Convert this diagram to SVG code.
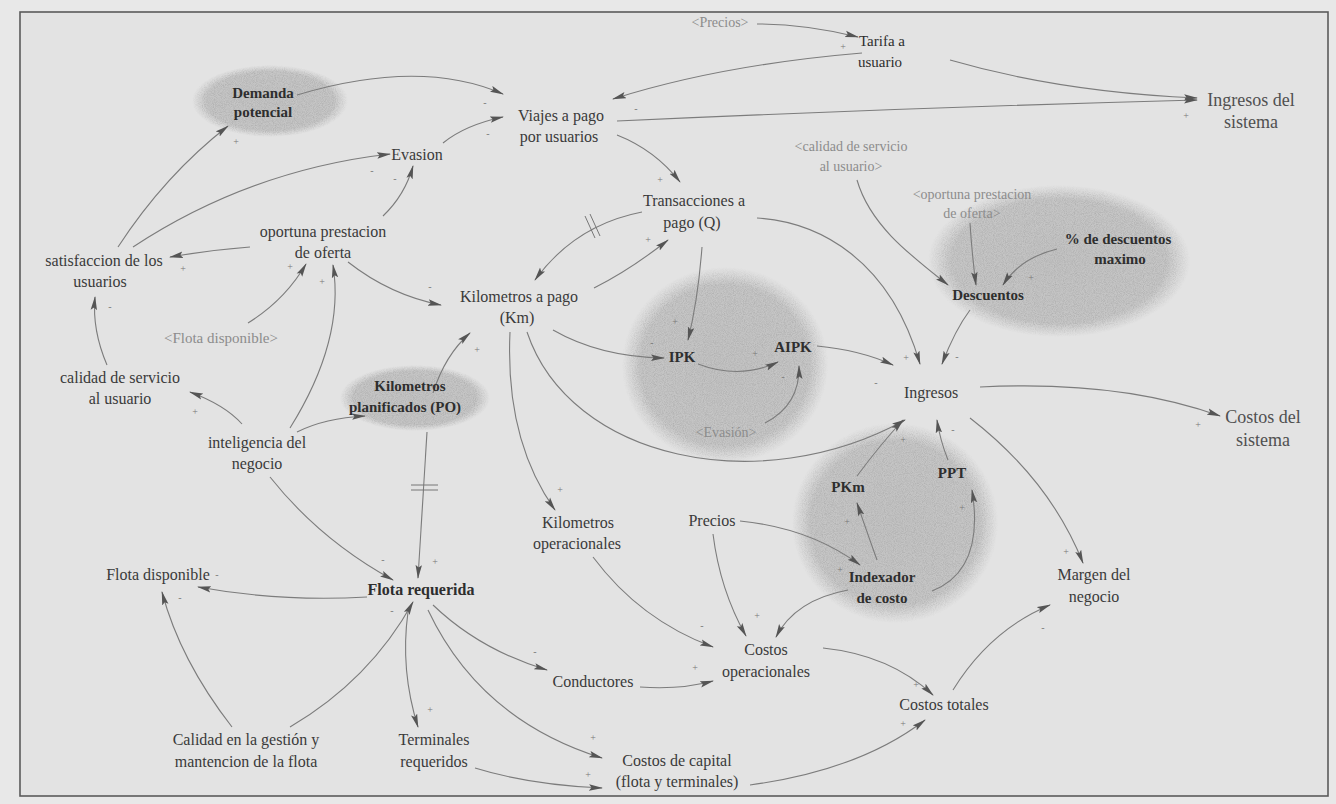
<svg xmlns="http://www.w3.org/2000/svg" width="1336" height="804" viewBox="0 0 1336 804">
  <defs>
    <style>
      text { font-family: "Liberation Serif", "Times New Roman", serif; text-anchor: middle; }
      .t { font-size: 16px; fill: #3a3a3a; }
      .big { font-size: 18px; fill: #505050; }
      .b { font-size: 15px; font-weight: bold; fill: #2e2e2e; }
      .sh { font-size: 14px; fill: #8c8c8c; }
      .sg { font-size: 10px; fill: #7a7a7a; }
      .c { fill: none; stroke: #7c7c7c; stroke-width: 1.1; marker-end: url(#ah); }
      .dl { fill: none; stroke: #777; stroke-width: 1; }
      .cl { fill: url(#shade); filter: url(#stipple); }
    </style>
    <marker id="ah" viewBox="0 0 14 8" refX="13" refY="4" markerWidth="14" markerHeight="8" orient="auto" markerUnits="userSpaceOnUse">
      <path d="M0,0.8 L14,4 L0,7.2 L2.5,4 z" fill="#555"/>
    </marker>
    <radialGradient id="shade" cx="50%" cy="50%" r="50%">
      <stop offset="0" stop-color="#c2c2c2" stop-opacity="1"/>
      <stop offset="0.82" stop-color="#c6c6c6" stop-opacity="1"/>
      <stop offset="1" stop-color="#cfcfcf" stop-opacity="0"/>
    </radialGradient>
    <filter id="stipple" x="-5%" y="-5%" width="110%" height="110%">
      <feTurbulence type="fractalNoise" baseFrequency="1.1" numOctaves="1" seed="4" result="noise"/>
      <feColorMatrix in="noise" type="matrix" values="0 0 0 0 0.42  0 0 0 0 0.42  0 0 0 0 0.42  -2 0 0 0 1.25" result="specks"/>
      <feComposite in="specks" in2="SourceGraphic" operator="in" result="clipped"/>
      <feMerge><feMergeNode in="SourceGraphic"/><feMergeNode in="clipped"/></feMerge>
    </filter>
  </defs>

  <!-- page and frame -->
  <rect x="0" y="0" width="1336" height="804" fill="#e8e8e8"/>
  <rect x="20" y="12" width="1308" height="784" fill="#e3e3e3" stroke="#5a5a5a" stroke-width="1.6"/>

  <!-- shaded clusters -->
  <g id="clusters">
    <ellipse class="cl" cx="270" cy="101" rx="78" ry="36"/>
    <ellipse class="cl" cx="1059" cy="261" rx="131" ry="76"/>
    <ellipse class="cl" cx="415" cy="398" rx="75" ry="33"/>
    <ellipse class="cl" cx="725" cy="365" rx="103" ry="98"/>
    <ellipse class="cl" cx="895" cy="523" rx="103" ry="100"/>
  </g>

  <g id="connectors">
    <path class="c" d="M757,24 Q805,24 858,37"/>
    <path class="c" d="M862,53 Q720,65 613,99"/>
    <path class="c" d="M617,121 Q900,108 1197,100"/>
    <path class="c" d="M950,60 Q1060,92 1197,98"/>
    <path class="c" d="M297,95 Q420,58 503,94"/>
    <path class="c" d="M443,143 Q465,125 503,117"/>
    <path class="c" d="M118,247 Q165,175 228,126"/>
    <path class="c" d="M133,247 Q250,170 390,154"/>
    <path class="c" d="M383,216 Q405,195 413,166"/>
    <path class="c" d="M250,247 Q210,250 170,257"/>
    <path class="c" d="M248,323 Q285,300 306,264"/>
    <path class="c" d="M290,428 Q345,340 333,265"/>
    <path class="c" d="M348,262 Q390,295 441,305"/>
    <path class="c" d="M617,135 Q655,150 680,182"/>
    <path class="c" d="M642,212 Q575,225 535,280"/>
    <path class="c" d="M594,288 Q630,270 668,240"/>
    <path class="c" d="M702,247 Q698,300 688,340"/>
    <path class="c" d="M757,218 C820,222 890,260 920,364"/>
    <path class="c" d="M970,310 Q955,330 942,364"/>
    <path class="c" d="M857,180 C870,225 910,255 948,285"/>
    <path class="c" d="M970,223 Q972,255 976,285"/>
    <path class="c" d="M1057,249 Q1020,258 1003,285"/>
    <path class="c" d="M553,330 Q600,357 664,358"/>
    <path class="c" d="M698,364 Q740,380 778,362"/>
    <path class="c" d="M765,423 Q800,405 799,366"/>
    <path class="c" d="M817,346 Q860,350 893,365"/>
    <path class="c" d="M527,332 C570,460 760,500 905,420"/>
    <path class="c" d="M857,476 Q880,445 903,420"/>
    <path class="c" d="M948,460 Q940,440 937,420"/>
    <path class="c" d="M877,560 Q868,535 857,503"/>
    <path class="c" d="M932,591 Q985,570 972,490"/>
    <path class="c" d="M740,521 Q810,528 860,565"/>
    <path class="c" d="M713,534 Q720,590 746,636"/>
    <path class="c" d="M848,590 Q795,600 776,637"/>
    <path class="c" d="M593,557 Q640,620 713,647"/>
    <path class="c" d="M640,687 Q680,690 713,681"/>
    <path class="c" d="M823,648 Q890,655 933,695"/>
    <path class="c" d="M750,785 Q860,770 925,720"/>
    <path class="c" d="M953,690 Q990,630 1050,605"/>
    <path class="c" d="M970,418 Q1050,480 1083,563"/>
    <path class="c" d="M980,387 Q1120,380 1220,416"/>
    <path class="c" d="M510,332 Q505,440 555,510"/>
    <path class="c" d="M433,393 Q445,355 470,333"/>
    <path class="c" d="M427,432 Q422,510 418,578"/>
    <path class="c" d="M297,432 Q325,418 365,416"/>
    <path class="c" d="M242,424 Q225,405 190,392"/>
    <path class="c" d="M107,365 Q92,330 95,297"/>
    <path class="c" d="M270,477 Q320,540 393,580"/>
    <path class="c" d="M367,597 Q280,602 198,587"/>
    <path class="c" d="M232,727 Q180,660 162,592"/>
    <path class="c" d="M290,727 Q370,680 413,602"/>
    <path class="c" d="M408,612 Q400,670 418,727"/>
    <path class="c" d="M433,605 Q480,650 547,670"/>
    <path class="c" d="M428,610 Q480,720 602,758"/>
    <path class="c" d="M475,768 Q530,785 602,788"/>
    <!-- delay marks -->
    <path class="dl" d="M585,216 L595,238 M590,214 L600,236"/>
    <path class="dl" d="M411,485 L438,485 M411,490 L438,490"/>
    <!-- polarity signs -->
    <g id="polarity">
      <text class="sg" x="843" y="50">+</text>
      <text class="sg" x="636" y="112">-</text>
      <text class="sg" x="1186" y="119">+</text>
      <text class="sg" x="485" y="106">-</text>
      <text class="sg" x="488" y="137">-</text>
      <text class="sg" x="236" y="145">+</text>
      <text class="sg" x="372" y="174">-</text>
      <text class="sg" x="395" y="182">-</text>
      <text class="sg" x="183" y="272">+</text>
      <text class="sg" x="290" y="270">+</text>
      <text class="sg" x="322" y="285">+</text>
      <text class="sg" x="430" y="290">-</text>
      <text class="sg" x="660" y="183">+</text>
      <text class="sg" x="648" y="243">+</text>
      <text class="sg" x="675" y="325">+</text>
      <text class="sg" x="906" y="361">+</text>
      <text class="sg" x="957" y="360">-</text>
      <text class="sg" x="1031" y="281">+</text>
      <text class="sg" x="652" y="346">-</text>
      <text class="sg" x="755" y="357">+</text>
      <text class="sg" x="783" y="380">-</text>
      <text class="sg" x="876" y="386">-</text>
      <text class="sg" x="903" y="443">+</text>
      <text class="sg" x="953" y="433">-</text>
      <text class="sg" x="847" y="525">+</text>
      <text class="sg" x="962" y="511">+</text>
      <text class="sg" x="840" y="573">+</text>
      <text class="sg" x="757" y="619">+</text>
      <text class="sg" x="702" y="629">-</text>
      <text class="sg" x="695" y="671">+</text>
      <text class="sg" x="916" y="688">+</text>
      <text class="sg" x="903" y="727">+</text>
      <text class="sg" x="1043" y="631">-</text>
      <text class="sg" x="1066" y="555">+</text>
      <text class="sg" x="1198" y="428">+</text>
      <text class="sg" x="560" y="493">+</text>
      <text class="sg" x="477" y="353">+</text>
      <text class="sg" x="435" y="565">+</text>
      <text class="sg" x="195" y="415">+</text>
      <text class="sg" x="110" y="310">-</text>
      <text class="sg" x="383" y="563">-</text>
      <text class="sg" x="217" y="578">-</text>
      <text class="sg" x="180" y="601">-</text>
      <text class="sg" x="392" y="614">-</text>
      <text class="sg" x="430" y="713">+</text>
      <text class="sg" x="535" y="655">-</text>
      <text class="sg" x="593" y="741">+</text>
      <text class="sg" x="588" y="778">+</text>
    </g>
  </g>

  <g id="precios-ref"><text class="sh" x="720" y="27">&lt;Precios&gt;</text></g>
  <g id="tarifa"><text class="t" style="font-size:15px;fill:#2e2e2e" x="882" y="46">Tarifa a</text><text class="t" style="font-size:15px;fill:#2e2e2e" x="880" y="67">usuario</text></g>
  <g id="ingresos-sistema"><text class="big" x="1251" y="106">Ingresos del</text><text class="big" x="1251" y="128">sistema</text></g>
  <g id="demanda"><text class="b" x="263" y="98">Demanda</text><text class="b" x="263" y="117">potencial</text></g>
  <g id="viajes"><text class="t" x="561" y="121">Viajes a pago</text><text class="t" x="559" y="142">por usuarios</text></g>
  <g id="evasion"><text class="t" x="417" y="160">Evasion</text></g>
  <g id="calidad-ref"><text class="sh" x="851" y="151">&lt;calidad de servicio</text><text class="sh" x="851" y="171">al usuario&gt;</text></g>
  <g id="transacciones"><text class="t" x="694" y="206">Transacciones a</text><text class="t" x="692" y="228">pago (Q)</text></g>
  <g id="oportuna-ref"><text class="sh" x="972" y="199">&lt;oportuna prestacion</text><text class="sh" x="972" y="218">de oferta&gt;</text></g>
  <g id="descuentos-max"><text class="b" x="1118" y="244">% de descuentos</text><text class="b" x="1120" y="264">maximo</text></g>
  <g id="descuentos"><text class="b" x="988" y="300">Descuentos</text></g>
  <g id="oportuna"><text class="t" x="323" y="237">oportuna prestacion</text><text class="t" x="323" y="258">de oferta</text></g>
  <g id="satisfaccion"><text class="t" x="104" y="266">satisfaccion de los</text><text class="t" x="100" y="287">usuarios</text></g>
  <g id="km-pago"><text class="t" x="519" y="302">Kilometros a pago</text><text class="t" x="517" y="323">(Km)</text></g>
  <g id="flota-ref"><text class="sh" style="font-size:15px" x="221" y="343">&lt;Flota disponible&gt;</text></g>
  <g id="calidad"><text class="t" x="120" y="383">calidad de servicio</text><text class="t" x="120" y="404">al usuario</text></g>
  <g id="inteligencia"><text class="t" x="257" y="448">inteligencia del</text><text class="t" x="257" y="469">negocio</text></g>
  <g id="km-planificados"><text class="b" x="410" y="391">Kilometros</text><text class="b" x="405" y="412">planificados (PO)</text></g>
  <g id="ipk"><text class="b" x="682" y="362">IPK</text></g>
  <g id="aipk"><text class="b" x="793" y="352">AIPK</text></g>
  <g id="evasion-ref"><text class="sh" x="726" y="437">&lt;Evasión&gt;</text></g>
  <g id="ingresos"><text class="t" x="931" y="398">Ingresos</text></g>
  <g id="costos-sistema"><text class="big" x="1263" y="423">Costos del</text><text class="big" x="1263" y="446">sistema</text></g>
  <g id="pkm"><text class="b" x="848" y="492">PKm</text></g>
  <g id="ppt"><text class="b" x="952" y="478">PPT</text></g>
  <g id="precios"><text class="t" x="712" y="526">Precios</text></g>
  <g id="km-operacionales"><text class="t" x="578" y="528">Kilometros</text><text class="t" x="577" y="549">operacionales</text></g>
  <g id="indexador"><text class="b" x="882" y="582">Indexador</text><text class="b" x="882" y="603">de costo</text></g>
  <g id="margen"><text class="t" x="1094" y="580">Margen del</text><text class="t" x="1094" y="602">negocio</text></g>
  <g id="flota-disponible"><text class="t" x="158" y="580">Flota disponible</text></g>
  <g id="flota-requerida"><text class="b" style="font-size:16px" x="421" y="595">Flota requerida</text></g>
  <g id="costos-operacionales"><text class="t" x="766" y="655">Costos</text><text class="t" x="766" y="677">operacionales</text></g>
  <g id="conductores"><text class="t" x="593" y="687">Conductores</text></g>
  <g id="costos-totales"><text class="t" x="944" y="710">Costos totales</text></g>
  <g id="calidad-gestion"><text class="t" x="246" y="745">Calidad en la gestión y</text><text class="t" x="246" y="767">mantencion de la flota</text></g>
  <g id="terminales"><text class="t" x="434" y="745">Terminales</text><text class="t" x="434" y="767">requeridos</text></g>
  <g id="costos-capital"><text class="t" x="677" y="766">Costos de capital</text><text class="t" x="677" y="787">(flota y terminales)</text></g>
</svg>
